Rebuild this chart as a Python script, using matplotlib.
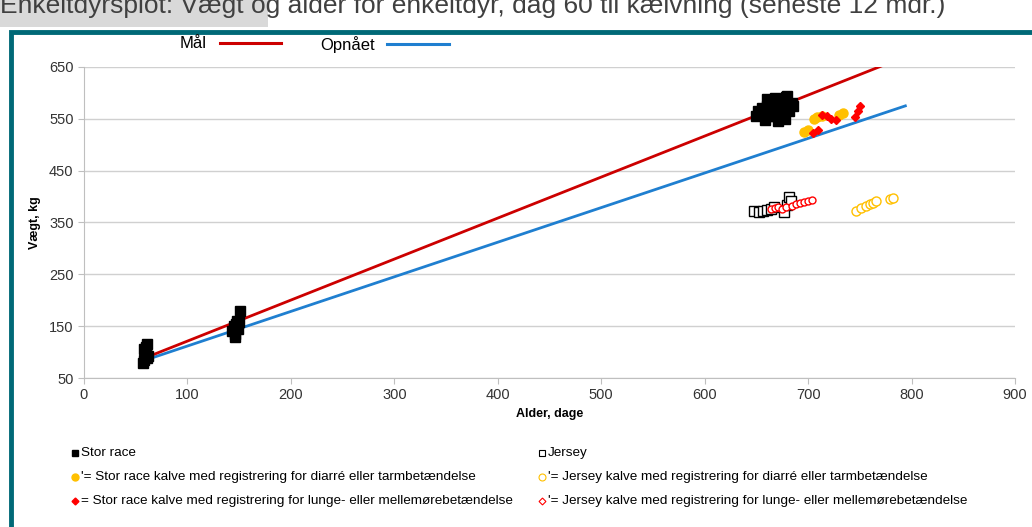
import matplotlib
matplotlib.use("Agg")
import matplotlib.pyplot as plt
from matplotlib.patches import Rectangle
from matplotlib.lines import Line2D

plt.rcParams['font.family'] = ['Liberation Sans', 'DejaVu Sans']

# Target and achieved lines (age, weight)
maal_x = [58, 771]
maal_y = [88, 652]
opnaaet_x = [60, 794]
opnaaet_y = [85, 575]

# Stor race (filled black squares)
stor_x = [57, 58, 59, 60, 60, 61, 62, 58, 61,
          143, 145, 146, 147, 148, 149, 150, 151, 146,
          650, 652, 655, 657, 658, 660, 662, 663, 665, 666, 667, 668, 670, 671, 672,
          673, 675, 676, 677, 678, 680, 681, 682, 684, 685, 660, 665, 670, 675, 668, 672, 679]
stor_y = [78, 85, 95, 100, 110, 115, 92, 105, 88,
          140, 150, 130, 155, 160, 145, 158, 180, 135,
          555, 565, 570, 560, 548, 575, 580, 562, 585, 570, 555, 590, 572, 545, 580,
          565, 588, 560, 575, 550, 595, 570, 565, 580, 575, 588, 555, 565, 578, 582, 560, 592]

# Jersey (open black squares)
jersey_x = [648, 653, 656, 660, 664, 667, 677, 680, 682, 683]
jersey_y = [372, 371, 373, 375, 377, 379, 370, 384, 400, 392]

# Stor race, diarré (filled yellow circles)
stor_diar_x = [696, 700, 706, 709, 713, 730, 734]
stor_diar_y = [525, 528, 550, 553, 556, 558, 562]

# Jersey, diarré (open yellow circles)
jersey_diar_x = [746, 751, 756, 760, 763, 766, 779, 782]
jersey_diar_y = [372, 378, 382, 385, 388, 392, 395, 398]

# Stor race, lunge (filled red diamonds)
stor_lunge_x = [705, 710, 713, 718, 722, 727, 745, 748, 750]
stor_lunge_y = [523, 528, 557, 555, 550, 548, 553, 565, 574]

# Jersey, lunge (open red diamonds)
jersey_lunge_x = [664, 668, 671, 675, 679, 684, 688, 692, 696, 700, 704]
jersey_lunge_y = [376, 378, 380, 377, 379, 382, 386, 388, 390, 391, 393]

x_ticks = [0, 100, 200, 300, 400, 500, 600, 700, 800, 900]
y_ticks = [50, 150, 250, 350, 450, 550, 650]

legend_labels = [
    "Stor race",
    "Jersey",
    "'= Stor race kalve med registrering for diarré eller tarmbetændelse",
    "'= Jersey kalve med registrering for diarré eller tarmbetændelse",
    "= Stor race kalve med registrering for lunge- eller mellemørebetændelse",
    "'= Jersey kalve med registrering for lunge- eller mellemørebetændelse",
]

RED = "#cc0000"
BLUE = "#1f7fd0"
YELLOW = "#ffc000"
DRED = "#ff0000"
TEAL = "#006977"

fig = plt.figure(figsize=(10.32, 5.27), dpi=100)

def fx(px): return px / 1032
def fy(py): return 1 - py / 527

# frame
fig.patches.append(Rectangle((11/1032, -0.02), 1.05, 1 - 32/527 + 0.02, transform=fig.transFigure,
                             fill=False, edgecolor=TEAL, linewidth=3.5, zorder=0))
# highlight behind first word of the (clipped) title
fig.patches.append(Rectangle((0, fy(27)), fx(268), 27/527 + 0.01, transform=fig.transFigure,
                             facecolor="#d9d9d9", edgecolor='none', zorder=0))
fig.text(0.0, fy(6), "Enkeltdyrsplot: Vægt og alder for enkeltdyr, dag 60 til kælvning (seneste 12 mdr.)",
         fontsize=19, color="#404040", va="center", ha="left")

ax = fig.add_axes([84/1032, 1 - 378/527, (1015 - 84)/1032, (378 - 67)/527])
ax.set_xlim(0, 900)
ax.set_ylim(50, 650)
ax.set_xticks(x_ticks)
ax.set_yticks(y_ticks)
ax.tick_params(axis='both', labelsize=10.5, colors="#333333", length=4, color="#bfbfbf")
ax.grid(axis='y', color="#d0d0d0", linewidth=1)
ax.set_axisbelow(True)
for s in ['top', 'right']:
    ax.spines[s].set_visible(False)
for s in ['left', 'bottom']:
    ax.spines[s].set_color("#bfbfbf")
ax.set_xlabel("Alder, dage", fontsize=9, fontweight='bold', labelpad=4)
ax.set_ylabel("Vægt, kg", fontsize=9, fontweight='bold', labelpad=6)

ax.plot(maal_x, maal_y, color=RED, lw=2, zorder=3)
ax.plot(opnaaet_x, opnaaet_y, color=BLUE, lw=2, zorder=2)

ms = 6.5
ax.plot(stor_x, stor_y, 's', color='black', ms=ms, ls='none', zorder=4)
ax.plot(jersey_x, jersey_y, 's', mfc='white', mec='black', mew=1, ms=ms, ls='none', zorder=4)
ax.plot(stor_diar_x, stor_diar_y, 'o', color=YELLOW, ms=ms, ls='none', zorder=4)
ax.plot(jersey_diar_x, jersey_diar_y, 'o', mfc='white', mec=YELLOW, mew=1, ms=ms, ls='none', zorder=4)
ax.plot(stor_lunge_x, stor_lunge_y, 'D', color=DRED, ms=4.5, ls='none', zorder=5)
ax.plot(jersey_lunge_x, jersey_lunge_y, 'o', mfc='white', mec=DRED, mew=1, ms=5, ls='none', zorder=5)

# top legend
fig.text(fx(180), fy(43), "Mål", fontsize=12, va='center', ha='left', color='black')
fig.add_artist(Line2D([fx(220), fx(281)], [fy(43), fy(43)], color=RED, lw=2.2))
fig.text(fx(320), fy(45), "Opnået", fontsize=12, va='center', ha='left', color='black')
fig.add_artist(Line2D([fx(387), fx(449)], [fy(44), fy(44)], color=BLUE, lw=2.2))

# bottom legend
rows = [453, 477, 501]
cols = [(75, 81), (542, 548)]
mk = [dict(marker='s', mfc='black', mec='black', ms=5),
      dict(marker='s', mfc='white', mec='black', ms=5, mew=0.8),
      dict(marker='o', mfc=YELLOW, mec=YELLOW, ms=5),
      dict(marker='o', mfc='white', mec=YELLOW, ms=5, mew=0.8),
      dict(marker='D', mfc=DRED, mec=DRED, ms=3.5),
      dict(marker='D', mfc='white', mec=DRED, ms=3.5, mew=0.8)]
for i, lab in enumerate(legend_labels):
    r = rows[i // 2]
    mx, tx = cols[i % 2]
    fig.add_artist(Line2D([fx(mx)], [fy(r)], ls='none', **mk[i]))
    fig.text(fx(tx), fy(r), lab, fontsize=9.7, va='center', ha='left', color='black')

fig.savefig("out.png", dpi=100)
